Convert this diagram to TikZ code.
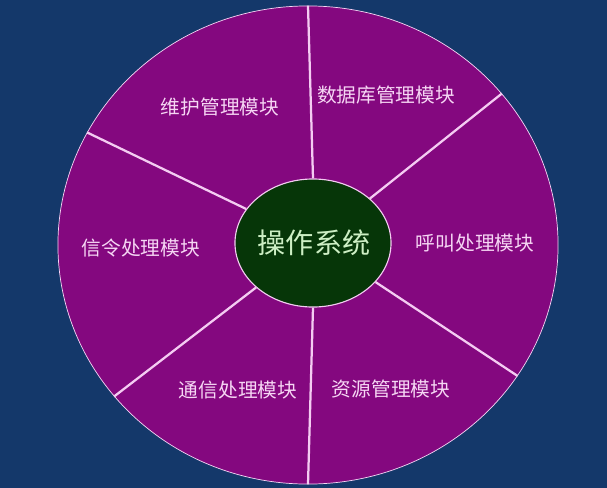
\documentclass[tikz,border=0pt]{standalone}
\usepackage{fontspec}
\setmainfont{Noto Sans CJK SC}
\usepackage{tikz}
\usetikzlibrary{shapes.geometric}

\definecolor{bgblue}{HTML}{14386A}
\definecolor{wheelpurple}{HTML}{84087F}
\definecolor{coregreen}{HTML}{063608}
\definecolor{spokepink}{HTML}{F4CCF2}
\definecolor{labelpink}{HTML}{F6D6F4}
\definecolor{coretext}{HTML}{CDEFC4}

\begin{document}
\begin{tikzpicture}[x=0.025cm, y=-0.025cm,
		part/.style={text=labelpink, font=\fontsize{14pt}{16pt}\selectfont},
		spoke/.style={draw=spokepink, line width=1.6pt}]
				\fill [bgblue] (0, 0) rectangle (607, 488);
				\useasboundingbox (0, 0) rectangle (607, 488);
				
				\node (wheel) at (308, 245) [ellipse, fill=wheelpurple, draw=spokepink!80, line width=0.5pt, minimum width=12.5cm, minimum height=11.95cm, inner sep=0pt] {};
				
				\node (core) at (313, 243) [ellipse, fill=coregreen, draw=spokepink, line width=0.8pt, minimum width=3.9cm, minimum height=3.2cm, inner sep=0pt] {};
				
				\draw [spoke] (core.90) to (wheel.90);
				\draw [spoke] (core.38) to (wheel.38);
				\draw [spoke] (core.-32) to (wheel.-32);
				\draw [spoke] (core.-90) to (wheel.-90);
				\draw [spoke] (core.218) to (wheel.218);
				\draw [spoke] (core.153) to (wheel.153);
				
				\node (os) at (314, 243) [text=coretext, font=\fontsize{20pt}{22pt}\selectfont] {操作系统};
				
				\node (maint) at (220, 107) [part] {维护管理模块};
				\node (db) at (386, 95) [part] {数据库管理模块};
				\node (call) at (475, 243) [part] {呼叫处理模块};
				\node (signal) at (141, 248) [part] {信令处理模块};
				\node (comm) at (238, 390) [part] {通信处理模块};
				\node (res) at (391, 389) [part] {资源管理模块};
				\end{tikzpicture}
\end{document}
